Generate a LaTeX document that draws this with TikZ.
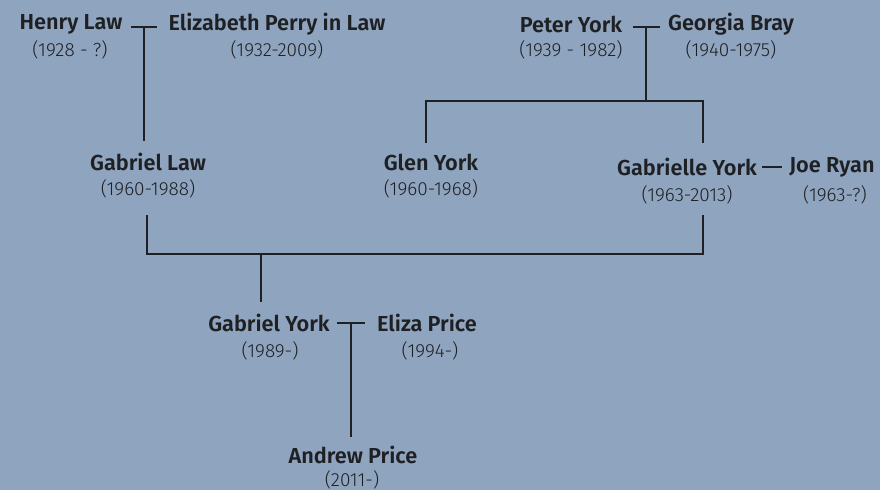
\documentclass[tikz,border=0pt]{standalone}
\usepackage{fontspec}
\setmainfont{Fira Sans}
\newfontfamily\namefont{Fira Sans SemiBold}
\newfontfamily\datefont{Fira Sans Light}
\definecolor{bg}{RGB}{143,164,190}
\definecolor{ink}{RGB}{30,32,36}
\begin{document}
\begin{tikzpicture}[x=1pt,y=-1pt,
  person/.style={text=ink,font=\namefont\fontsize{21.7}{23}\selectfont,inner sep=0pt,anchor=center},
  dates/.style={text=ink,font=\datefont\fontsize{19}{21}\selectfont,inner sep=0pt,anchor=center},
  link/.style={draw=ink,line width=2pt}]
\fill[bg] (0,0) rectangle (880,490);
\useasboundingbox (0,0) rectangle (880,490);
% names
\node[person] (henry) at (71,24) {Henry Law};
\node[dates] (henryd) at (70,50) {(1928 - ?)};
\node[person] (eliz) at (277,24) {Elizabeth Perry in Law};
\node[dates] (elizd) at (277,50) {(1932-2009)};
\node[person] (peter) at (571,24) {Peter York};
\node[dates] (peterd) at (571,50) {(1939 - 1982)};
\node[person] (georgia) at (731,24) {Georgia Bray};
\node[dates] (georgiad) at (731,50) {(1940-1975)};
\node[person] (glaw) at (148,162) {Gabriel Law};
\node[dates] (glawd) at (148,189) {(1960-1988)};
\node[person] (glen) at (431,162) {Glen York};
\node[dates] (glend) at (431,189) {(1960-1968)};
\node[person] (gabrielle) at (687,167) {Gabrielle York};
\node[dates] (gabrielled) at (687,195) {(1963-2013)};
\node[person] (joe) at (832,167) {Joe Ryan};
\node[dates] (joed) at (835,195) {(1963-?)};
\node[person] (gyork) at (269,323) {Gabriel York};
\node[dates] (gyorkd) at (270,351) {(1989-)};
\node[person] (eliza) at (427,323) {Eliza Price};
\node[dates] (elizad) at (430,351) {(1994-)};
\node[person] (andrew) at (353,455) {Andrew Price};
\node[dates] (andrewd) at (352,480) {(2011-)};
% coordinates
\coordinate (m1) at (144,27);
\coordinate (m2) at (646,27);
\coordinate (m3) at (351,323);
\coordinate (c1) at (144,141);
\coordinate (s2) at (646,101);
\coordinate (b2l) at (426,101);
\coordinate (b2r) at (703,101);
\coordinate (b3) at (261,254);
% marriage lines
\draw[link] (131,27) -- (157,27);
\draw[link] (m1) -- (c1);
\draw[link] (633,27) -- (660,27);
\draw[link] (m2) -- (s2);
\draw[link] (b2l |- 0,143) -- (b2l) -- (b2r) -- (b2r |- 0,143);
\draw[link] (762,167) -- (782,167);
\draw[link] (147,215) -- (147,254) -- (703,254) -- (703,215);
\draw[link] (b3) -- (261,302);
\draw[link] (337,323) -- (365,323);
\draw[link] (m3) -- (351,437);
\end{tikzpicture}
\end{document}
